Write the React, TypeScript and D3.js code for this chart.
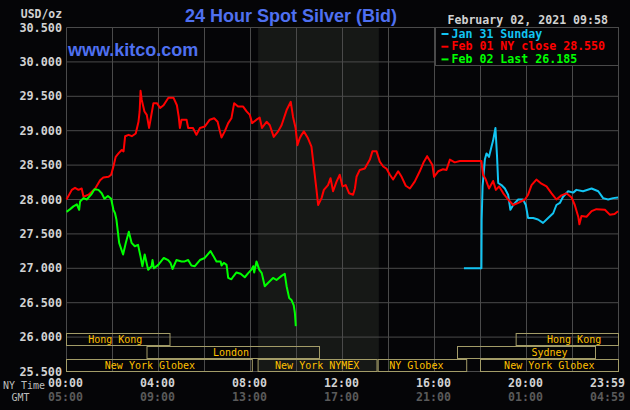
import React from "react";
import * as d3 from "d3";

// ---- data (hour of NY day, price USD/oz) ----
const jan31Sunday: [number, number][] = [
  [17.28, 27.0], [18.04, 27.0], [18.05, 27.71], [18.09, 28.19], [18.19, 28.58], [18.26, 28.67],
  [18.37, 28.62], [18.48, 28.77], [18.55, 28.86], [18.65, 29.04], [18.72, 28.62], [18.77, 28.24],
  [18.91, 28.21], [19.06, 28.16], [19.2, 28.07], [19.3, 27.85], [19.42, 27.92], [19.64, 28.0],
  [19.85, 28.0], [19.97, 27.92], [20.07, 27.73], [20.29, 27.73], [20.5, 27.71], [20.72, 27.66],
  [20.94, 27.73], [21.16, 27.8], [21.3, 27.92], [21.45, 27.95], [21.59, 28.04], [21.81, 28.12],
  [22.03, 28.1], [22.17, 28.14], [22.46, 28.12], [22.83, 28.16], [23.12, 28.12], [23.33, 28.02],
  [23.55, 28.0], [23.77, 28.02], [23.98, 28.03],
];

const feb01NyClose: [number, number][] = [
  [0.0, 28.0], [0.23, 28.14], [0.37, 28.17], [0.52, 28.14], [0.66, 28.16], [0.74, 28.04],
  [0.96, 28.07], [1.25, 28.16], [1.46, 28.28], [1.6, 28.32], [1.83, 28.33], [1.94, 28.36],
  [2.04, 28.48], [2.14, 28.62], [2.26, 28.67], [2.4, 28.72], [2.48, 28.7], [2.55, 28.92],
  [2.7, 28.94], [2.84, 28.92], [3.01, 28.96], [3.13, 29.13], [3.18, 29.28], [3.22, 29.58],
  [3.27, 29.45], [3.39, 29.28], [3.49, 29.23], [3.59, 29.04], [3.68, 29.21], [3.78, 29.4],
  [3.93, 29.4], [4.07, 29.33], [4.22, 29.37], [4.43, 29.48], [4.65, 29.48], [4.8, 29.37],
  [4.88, 29.2], [4.93, 29.04], [5.0, 29.16], [5.22, 29.16], [5.29, 29.04], [5.5, 29.04],
  [5.65, 28.94], [5.8, 29.04], [6.01, 29.06], [6.23, 29.16], [6.42, 29.18], [6.57, 29.13],
  [6.67, 28.99], [6.74, 28.9], [6.88, 28.99], [7.03, 29.11], [7.17, 29.18], [7.29, 29.4],
  [7.46, 29.35], [7.68, 29.35], [7.83, 29.28], [7.97, 29.23], [8.07, 29.11], [8.26, 29.16],
  [8.4, 29.19], [8.5, 29.04], [8.7, 29.13], [8.84, 29.08], [9.01, 28.91], [9.2, 28.99],
  [9.35, 29.08], [9.57, 29.3], [9.75, 29.42], [9.85, 29.2], [9.96, 29.04], [10.04, 28.79],
  [10.14, 28.89], [10.22, 28.94], [10.32, 28.99], [10.5, 28.89], [10.65, 28.77], [10.75, 28.48],
  [10.87, 28.14], [10.94, 27.92], [11.09, 28.02], [11.19, 28.14], [11.37, 28.21], [11.48, 28.31],
  [11.59, 28.12], [11.74, 28.26], [11.88, 28.36], [12.0, 28.19], [12.14, 28.21], [12.29, 28.09],
  [12.46, 28.07], [12.54, 28.16], [12.61, 28.33], [12.75, 28.43], [12.97, 28.45], [13.19, 28.58],
  [13.3, 28.7], [13.48, 28.7], [13.62, 28.55], [13.77, 28.48], [13.91, 28.45], [14.06, 28.36],
  [14.2, 28.29], [14.42, 28.41], [14.57, 28.33], [14.75, 28.2], [14.93, 28.16], [15.14, 28.26],
  [15.36, 28.41], [15.54, 28.55], [15.68, 28.63], [15.91, 28.5], [15.98, 28.33], [16.16, 28.41],
  [16.37, 28.44], [16.52, 28.43], [16.67, 28.58], [16.88, 28.54], [17.1, 28.56], [18.04, 28.56],
  [18.11, 28.36], [18.23, 28.29], [18.37, 28.16], [18.55, 28.27], [18.67, 28.14], [18.81, 28.19],
  [18.99, 28.09], [19.2, 28.0], [19.42, 27.92], [19.64, 27.95], [19.93, 28.0], [20.07, 28.07],
  [20.22, 28.21], [20.43, 28.29], [20.65, 28.23], [20.87, 28.19], [21.09, 28.09], [21.3, 28.0],
  [21.52, 28.06], [21.74, 28.09], [21.96, 28.03], [22.1, 27.92], [22.25, 27.75], [22.3, 27.64],
  [22.39, 27.76], [22.61, 27.75], [22.83, 27.83], [23.04, 27.86], [23.41, 27.85], [23.62, 27.78],
  [23.83, 27.79], [23.98, 27.83],
];

const feb02Last: [number, number][] = [
  [0.0, 27.82], [0.16, 27.86], [0.3, 27.9], [0.45, 27.93], [0.55, 27.85], [0.59, 27.97],
  [0.74, 28.02], [0.88, 28.0], [1.07, 28.07], [1.22, 28.15], [1.39, 28.14], [1.53, 28.09],
  [1.65, 28.01], [1.8, 28.05], [1.94, 28.01], [2.04, 27.85], [2.11, 27.8], [2.17, 27.71],
  [2.29, 27.37], [2.46, 27.2], [2.58, 27.37], [2.71, 27.53], [2.83, 27.37], [2.97, 27.32],
  [3.11, 27.34], [3.22, 27.17], [3.3, 27.03], [3.4, 27.2], [3.55, 26.98], [3.7, 27.03],
  [3.74, 27.12], [3.8, 27.0], [3.99, 27.05], [4.23, 27.15], [4.42, 27.12], [4.52, 27.08],
  [4.61, 26.99], [4.78, 27.12], [5.0, 27.1], [5.14, 27.1], [5.29, 27.12], [5.43, 27.04],
  [5.58, 27.03], [5.8, 27.12], [6.01, 27.15], [6.16, 27.21], [6.26, 27.25], [6.4, 27.17],
  [6.52, 27.1], [6.7, 27.1], [6.74, 27.04], [6.84, 27.08], [6.96, 27.05], [7.03, 26.86],
  [7.17, 26.84], [7.25, 26.88], [7.39, 26.94], [7.57, 26.92], [7.75, 26.87], [7.9, 26.93],
  [8.04, 26.98], [8.12, 27.03], [8.16, 26.94], [8.26, 27.1], [8.38, 26.98], [8.49, 26.93],
  [8.62, 26.74], [8.77, 26.79], [8.98, 26.86], [9.13, 26.83], [9.35, 26.89], [9.49, 26.92],
  [9.57, 26.74], [9.68, 26.57], [9.78, 26.54], [9.88, 26.46], [9.93, 26.35], [9.97, 26.16],
];

const legendLabels = ["Jan 31 Sunday", "Feb 01 NY close 28.550", "Feb 02 Last 26.185"];
const seriesColors = ["#12c4f2", "#ff0000", "#00ff00"];

const priceTicks = [30.5, 30.0, 29.5, 29.0, 28.5, 28.0, 27.5, 27.0, 26.5, 26.0, 25.5];
const tickHours = [0, 4, 8, 12, 16, 20, 24];
const nyTimeLabels = ["00:00", "04:00", "08:00", "12:00", "16:00", "20:00", "23:59"];
const gmtLabels = ["05:00", "09:00", "13:00", "17:00", "21:00", "01:00", "04:59"];

const nymexHours = [8.33, 13.58];

type Session = { name: string; start: number; end: number; row: number; labelAt: number };
const sessions: Session[] = [
  { name: "Hong Kong", start: 0, end: 4.5, row: 0, labelAt: 2.12 },
  { name: "London", start: 3.5, end: 11.0, row: 1, labelAt: 7.15 },
  { name: "New York Globex", start: 0, end: 8.08, row: 2, labelAt: 3.63 },
  { name: "New York NYMEX", start: 8.33, end: 13.5, row: 2, labelAt: 10.9 },
  { name: "NY Globex", start: 13.55, end: 17.4, row: 2, labelAt: 15.21 },
  { name: "Sydney", start: 17.0, end: 23.0, row: 1, labelAt: 21.0 },
  { name: "New York Globex", start: 18.0, end: 24, row: 2, labelAt: 20.99 },
  { name: "Hong Kong", start: 19.55, end: 24, row: 0, labelAt: 22.07 },
];

const title = "24 Hour Spot Silver (Bid)";
const site = "www.kitco.com";
const stamp = "February 02, 2021 09:58";
const unit = "USD/oz";

const W = 630;
const H = 410;
const MONO = "'DejaVu Sans Mono', monospace";
const SANS = "'Liberation Sans', Arial, sans-serif";

export default function App() {
  const x = d3.scaleLinear().domain([0, 24]).range([66.5, 618.5]);
  const y = d3.scaleLinear().domain([25.5, 30.5]).range([371.5, 27.5]);
  const line = d3
    .line<[number, number]>()
    .x((d) => x(d[0]))
    .y((d) => y(d[1]));
  const series = [jan31Sunday, feb01NyClose, feb02Last];
  const gridHours = d3.range(0, 25, 2);
  const grid = "#4a4a4a";
  const rowTop = [333.5, 346.5, 359.5];
  const rowH = 12;
  const legendX0 = 435.5;

  return (
    <>
      <style>{`body{margin:0;background:#000}`}</style>
      <svg width={W} height={H} style={{ display: "block", background: "#050507" }}>
        <rect x={0} y={0} width={W} height={H} fill="#050507" />
        {/* NYMEX shading */}
        <rect
          x={x(nymexHours[0])}
          y={y(30.5)}
          width={x(nymexHours[1]) - x(nymexHours[0])}
          height={y(25.5) - y(30.5)}
          fill="#161816"
        />
        {/* grid */}
        {priceTicks.map((p) => (
          <line key={"h" + p} x1={x(0)} x2={x(24)} y1={y(p)} y2={y(p)} stroke={grid} strokeWidth={1} />
        ))}
        {gridHours.map((h) => (
          <line key={"v" + h} x1={x(h)} x2={x(h)} y1={y(30.5)} y2={y(25.5)} stroke={grid} strokeWidth={1} />
        ))}
        {/* sessions */}
        {sessions.map((s, i) => (
          <g key={"s" + i}>
            <rect
              x={x(s.start)}
              y={rowTop[s.row]}
              width={x(s.end) - x(s.start)}
              height={rowH}
              fill="none"
              stroke="#a39c68"
              strokeWidth={1}
            />
            <text
              x={x(s.labelAt)}
              y={rowTop[s.row] + 9.5}
              fill="#ffc000"
              fontFamily={MONO}
              fontSize={10}
              textAnchor="middle"
            >
              {s.name}
            </text>
          </g>
        ))}
        {/* data lines */}
        {series.map((s, i) => (
          <path
            key={"l" + i}
            d={line(s) || ""}
            fill="none"
            stroke={seriesColors[i]}
            strokeWidth={2}
            strokeLinejoin="round"
          />
        ))}
        {/* legend */}
        <rect x={legendX0} y={y(30.5)} width={x(24) - legendX0} height={38} fill="#050507" stroke={grid} />
        {legendLabels.map((lab, i) => (
          <g key={"lg" + i}>
            <line
              x1={441.5}
              x2={448.5}
              y1={34 + i * 12.7}
              y2={34 + i * 12.7}
              stroke={seriesColors[i]}
              strokeWidth={2}
            />
            <text
              x={451.5}
              y={37.7 + i * 12.7}
              fill={seriesColors[i]}
              fontFamily={MONO}
              fontWeight="bold"
              fontSize={11.6}
            >
              {lab}
            </text>
          </g>
        ))}
        {/* y axis labels */}
        {priceTicks.map((p) => (
          <text
            key={"yl" + p}
            x={62}
            y={y(p) + 4}
            fill="#d2d2d2"
            fontFamily={MONO}
            fontWeight="bold"
            fontSize={11.8}
            textAnchor="end"
          >
            {d3.format(".3f")(p)}
          </text>
        ))}
        <text x={62} y={17.5} fill="#d2d2d2" fontFamily={MONO} fontWeight="bold" fontSize={11.4} textAnchor="end">
          {unit}
        </text>
        {/* x axis labels */}
        {tickHours.map((h, i) => {
          const last = i === tickHours.length - 1;
          return (
            <g key={"xl" + h}>
              <text
                x={last ? 625 : x(h) - 1}
                y={387}
                fill="#d2d2d2"
                fontFamily={MONO}
                fontWeight="bold"
                fontSize={11.6}
                textAnchor={last ? "end" : "middle"}
              >
                {nyTimeLabels[i]}
              </text>
              <text
                x={last ? 625 : x(h) - 1}
                y={401}
                fill="#5a5a5a"
                fontFamily={MONO}
                fontWeight="bold"
                fontSize={11.6}
                textAnchor={last ? "end" : "middle"}
              >
                {gmtLabels[i]}
              </text>
            </g>
          );
        })}
        <text x={3} y={388.5} fill="#bdbdbd" fontFamily={MONO} fontSize={10}>
          NY Time
        </text>
        <text x={11.5} y={401} fill="#bdbdbd" fontFamily={MONO} fontSize={10}>
          GMT
        </text>
        {/* titles */}
        <text x={185} y={22} fill="#4f70f0" fontFamily={SANS} fontWeight="bold" fontSize={18}>
          {title}
        </text>
        <text x={68} y={56} fill="#4f70f0" fontFamily={SANS} fontWeight="bold" fontSize={18}>
          {site}
        </text>
        <text x={608} y={24} fill="#d2d2d2" fontFamily={MONO} fontWeight="bold" fontSize={11.6} textAnchor="end">
          {stamp}
        </text>
      </svg>
    </>
  );
}
